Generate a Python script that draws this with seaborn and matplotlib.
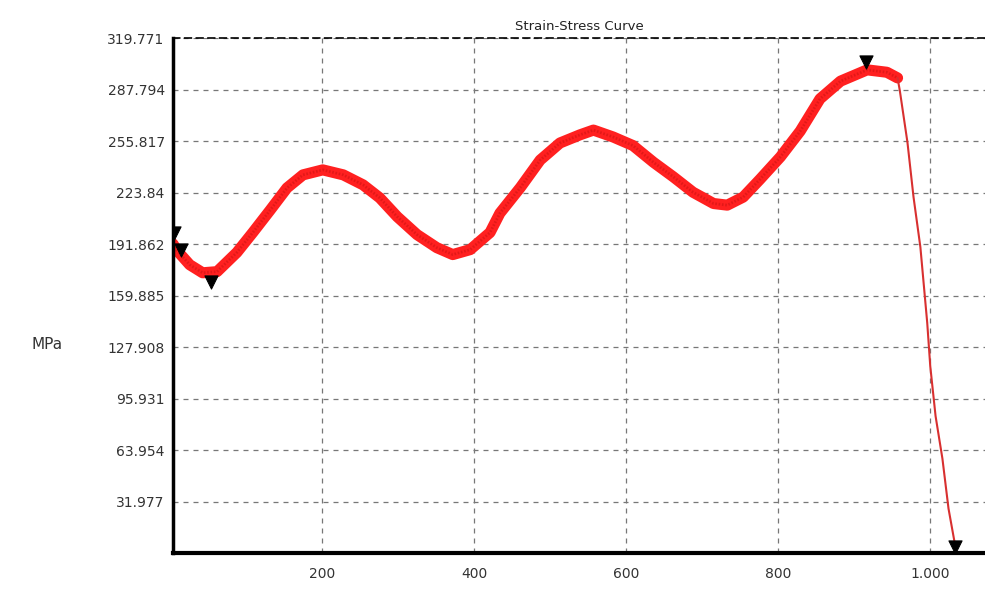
import numpy as np
import pandas as pd
import seaborn as sns
import matplotlib.pyplot as plt
from matplotlib.ticker import FixedLocator, MultipleLocator

# strain (x) / stress MPa (y)
strain = [4, 9, 26, 43, 62, 88, 109, 132, 154, 175, 201, 228, 254, 276, 299, 325, 351, 372,
          395, 421, 434, 461, 487, 513, 539, 557, 583, 609, 636, 662, 688, 715, 733, 754,
          776, 803, 829, 855, 882, 917, 943, 957]
stress = [192, 188, 179, 174, 174.7, 186.6, 199, 213, 226.7, 234.8, 237.9, 234.8, 228.6, 220.5,
          208.8, 197.7, 189.6, 185.3, 188.4, 199, 211, 227, 244, 254.6, 259.6, 262.6, 258.3,
          253, 242.6, 233.6, 224, 217, 216, 221, 232, 246, 262, 282, 293, 300, 298.5, 295]
# failure drop
drop_strain = [957, 960, 970, 978, 987, 996, 1000, 1007, 1016, 1024, 1033]
drop_stress = [295, 287, 255, 221, 190, 143, 116, 85, 58.6, 27.6, 4]

# marker points
mark_strain = [6, 14, 54, 916, 1033]
mark_stress = [199, 188, 168, 305, 3.5]

ymax = 319.771
ystep = ymax / 10
ytick_vals = [ystep * i for i in range(1, 11)]
ytick_labels = ["31.977", "63.954", "95.931", "127.908", "159.885", "191.862",
                "223.84", "255.817", "287.794", "319.771"]
xtick_vals = [200, 400, 600, 800, 1000]
xtick_labels = ["200", "400", "600", "800", "1.000"]

curve = pd.DataFrame({"strain": strain, "stress": stress})
drop = pd.DataFrame({"strain": drop_strain, "stress": drop_stress})
marks = pd.DataFrame({"strain": mark_strain, "stress": mark_stress})

sns.set_style("white")
plt.rcParams['font.family'] = ['DejaVu Sans']

fig = plt.figure(figsize=(9.85, 5.94), dpi=100)
ax = fig.add_axes([0.1756, 0.069, 0.8244, 0.867])

sns.lineplot(data=curve, x="strain", y="stress", ax=ax, color="#ff2020", lw=8,
             sort=False, estimator=None, solid_capstyle="round", solid_joinstyle="round")
sns.lineplot(data=curve, x="strain", y="stress", ax=ax, color="#c01010", lw=2,
             sort=False, estimator=None, alpha=0.45, linestyle=(0, (0.6, 0.6)))
sns.lineplot(data=drop, x="strain", y="stress", ax=ax, color="#d83030", lw=1.5,
             sort=False, estimator=None)
sns.scatterplot(data=marks, x="strain", y="stress", ax=ax, marker="v", color="black",
                s=90, edgecolor="black", zorder=5)

ax.set_xlim(4, 1072)
ax.set_ylim(0, ymax)

ax.yaxis.set_major_locator(FixedLocator(ytick_vals))
ax.set_yticklabels(ytick_labels, fontsize=10, color="#333333")
ax.xaxis.set_major_locator(FixedLocator(xtick_vals))
ax.xaxis.set_minor_locator(MultipleLocator(100))
ax.set_xticklabels(xtick_labels, fontsize=10, color="#333333")
ax.tick_params(axis="both", which="major", length=4, width=1, color="#555555", pad=6)
ax.tick_params(axis="x", which="minor", length=3, width=1, color="#888888")
ax.tick_params(axis="y", length=0)

ax.grid(True, which="major", linestyle=(0, (4, 4)), color="#777777", lw=0.9)

ax.spines["left"].set_linewidth(2.5)
ax.spines["left"].set_color("black")
ax.spines["bottom"].set_linewidth(3)
ax.spines["bottom"].set_color("black")
ax.spines["top"].set_linestyle((0, (4, 3)))
ax.spines["top"].set_linewidth(1.2)
ax.spines["top"].set_color("black")
ax.spines["right"].set_visible(False)

ax.set_xlabel("")
ax.set_ylabel("MPa", fontsize=11, rotation=0, labelpad=0, color="#333333")
ax.yaxis.set_label_coords(-0.155, 0.39)
ax.set_title("Strain-Stress Curve", fontsize=9.5, pad=6, color="#222222")

fig.savefig("out.png", dpi=100)
